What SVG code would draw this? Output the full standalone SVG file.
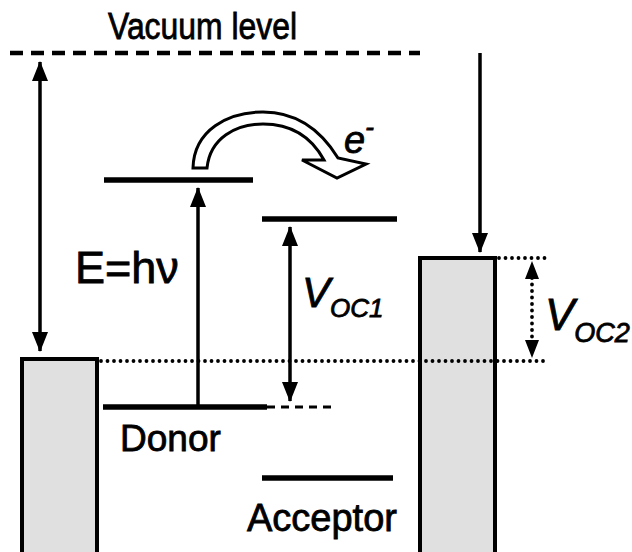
<svg xmlns="http://www.w3.org/2000/svg" width="632" height="552" viewBox="0 0 632 552">
<style>
.txt{font-family:"Liberation Sans",Arial,sans-serif;fill:#000;stroke:#000;stroke-width:0.8}
.lvl{stroke:#000;stroke-width:5.5;fill:none}
.arr{stroke:#000;stroke-width:3.5;fill:none}
.dot{stroke:#000;stroke-width:3.8;stroke-linecap:round;stroke-dasharray:0 6.5;fill:none}
.box{fill:#e0e0e0;stroke:#000;stroke-width:4}
</style>
<defs>
<marker id="ah" markerUnits="userSpaceOnUse" markerWidth="20" markerHeight="16" refX="19" refY="8" orient="auto-start-reverse" overflow="visible">
<path d="M0,0 L20,8 L0,16 z" fill="#000"/>
</marker>
</defs>
<rect width="632" height="552" fill="#fff"/>
<g id="vacuum">
<line x1="10" y1="53" x2="420" y2="53" stroke="#000" stroke-width="4.5" stroke-dasharray="13 8"/>
<text class="txt" x="108" y="39" font-size="37" textLength="189" lengthAdjust="spacingAndGlyphs">Vacuum level</text>
</g>
<g id="left-electrode">
<rect class="box" x="22" y="359" width="75" height="200"/>
</g>
<g id="right-electrode">
<rect class="box" x="420" y="258" width="75" height="300"/>
</g>
<g id="donor">
<line class="lvl" x1="104" y1="180" x2="253" y2="180"/>
<line class="lvl" x1="103" y1="407" x2="267" y2="407"/>
<text class="txt" x="120" y="451" font-size="37">Donor</text>
</g>
<g id="acceptor">
<line class="lvl" x1="262" y1="219" x2="397" y2="219"/>
<line class="lvl" x1="262" y1="478" x2="393" y2="478"/>
<text class="txt" x="247" y="531" font-size="38">Acceptor</text>
</g>
<g id="electron-transfer">
<path d="M193,168 C194,130 228,112 263,112 C298,112 322,132 338,158 L366,164 L337,178 L302,160 L324,160 C312,138 292,124 263,124 C236,124 210,138 207,168 Z" fill="#fff" stroke="#000" stroke-width="3" stroke-linejoin="miter"/>
<text class="txt" x="344" y="153" font-size="38" font-style="italic">e<tspan font-size="26" dy="-17">-</tspan></text>
</g>
<g id="connectors">
<line class="dot" x1="101" y1="361" x2="547" y2="361"/>
<line class="dot" x1="499" y1="258" x2="547" y2="258"/>
<line x1="267" y1="407" x2="334" y2="407" stroke="#000" stroke-width="2.8" stroke-dasharray="8 6"/>
<line class="arr" x1="40" y1="62" x2="40" y2="351" marker-start="url(#ah)" marker-end="url(#ah)"/>
<line class="arr" x1="480" y1="53" x2="480" y2="252" marker-end="url(#ah)"/>
<line class="arr" x1="198" y1="405" x2="198" y2="188" stroke-width="4.5" marker-end="url(#ah)"/>
<line class="arr" x1="290" y1="227" x2="290" y2="401" marker-start="url(#ah)" marker-end="url(#ah)"/>
<line class="dot" x1="532" y1="278" x2="532" y2="341"/>
<path d="M525,279 L532,261 L539,279 z M525,340 L532,358 L539,340 z" fill="#000"/>
</g>
<g id="labels">
<text class="txt" x="75" y="283" font-size="45">E=hν</text>
<text class="txt" x="302" y="307" font-size="42" font-style="italic">V<tspan font-size="26" dy="10">OC1</tspan></text>
<text class="txt" x="545" y="330" font-size="44" font-style="italic">V<tspan font-size="27" dy="12">OC2</tspan></text>
</g>
</svg>
